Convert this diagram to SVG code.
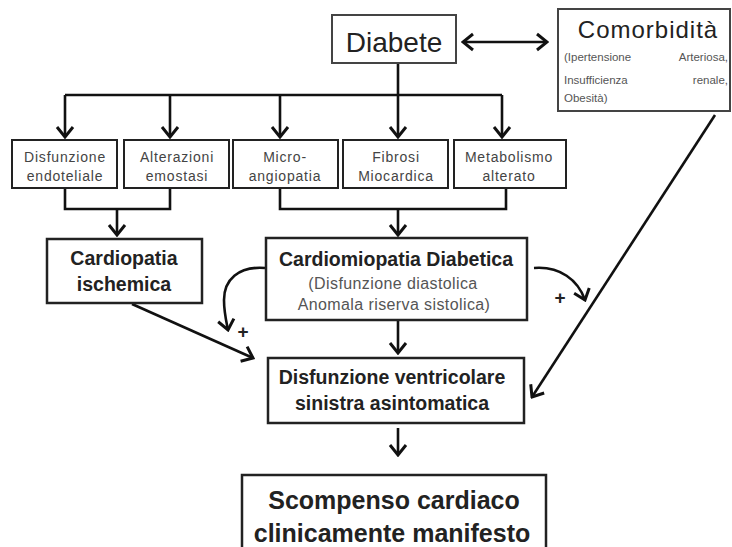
<svg xmlns="http://www.w3.org/2000/svg" width="732" height="547" viewBox="0 0 732 547">
<style>
text{font-family:"Liberation Sans",Arial,sans-serif;text-anchor:middle}
.box{fill:#fff;stroke:#222;stroke-width:2.5}
.sbox{fill:#fff;stroke:#222;stroke-width:2}
.small{font-size:14px;fill:#444;letter-spacing:0.8px}
.bold{font-size:19.5px;font-weight:bold;fill:#222}
.light{font-size:16px;fill:#555;letter-spacing:0.4px}
.com{font-size:11.5px;fill:#555}
.ln{fill:none;stroke:#111;stroke-width:2.6}
.arr{marker-end:url(#ah)}
.plus{font-size:19px;font-weight:bold;fill:#222}
</style>
<defs>
<marker id="ah" markerUnits="userSpaceOnUse" viewBox="-13 -10 15 20" markerWidth="15" markerHeight="20" refX="0" refY="0" orient="auto-start-reverse">
<path d="M-10,-8 L0,0 L-10,8" fill="none" stroke="#111" stroke-width="3"/>
</marker>
</defs>
<rect width="732" height="547" fill="#fff"/>
<g id="connectors">
<line class="ln" x1="463" y1="42" x2="547" y2="42" marker-start="url(#ah)" marker-end="url(#ah)"/>
<line class="ln" x1="65" y1="95" x2="502" y2="95"/>
<line class="ln arr" x1="398" y1="63" x2="398" y2="137"/>
<line class="ln arr" x1="65" y1="95" x2="65" y2="137"/>
<line class="ln arr" x1="170" y1="95" x2="170" y2="137"/>
<line class="ln arr" x1="280" y1="95" x2="280" y2="137"/>
<line class="ln arr" x1="502" y1="95" x2="502" y2="137"/>
<path class="ln" d="M65,189 V209 H170 V189"/>
<line class="ln arr" x1="117" y1="209" x2="117" y2="235"/>
<path class="ln" d="M280,189 V209 H506 V189"/>
<line class="ln arr" x1="398" y1="209" x2="398" y2="235"/>
<line class="ln arr" x1="398" y1="321" x2="398" y2="353"/>
<line class="ln arr" x1="398" y1="428" x2="398" y2="455"/>
<path class="ln arr" d="M265,268 C238,266 224,280 224,300 C224,312 226,320 228,330"/>
<path class="ln arr" d="M534,268 C560,266 578,280 585,300"/>
<line class="ln arr" x1="132" y1="304" x2="253" y2="358"/>
<line class="ln arr" x1="715" y1="115" x2="532" y2="397"/>
<text class="plus" x="243" y="338">+</text>
<text class="plus" x="560" y="304">+</text>
</g>
<g id="diabete">
<rect x="332" y="15" width="124" height="48" fill="#fff" stroke="#444" stroke-width="2"/>
<text x="394" y="52" style="font-size:28px;fill:#222">Diabete</text>
</g>
<g id="comorbidita">
<rect x="558" y="9" width="172" height="102" fill="#fff" stroke="#444" stroke-width="2"/>
<text x="648" y="38" style="font-size:24px;fill:#222;letter-spacing:1px">Comorbidità</text>
<text class="com" x="564" y="61" style="text-anchor:start">(Ipertensione</text>
<text class="com" x="728" y="61" style="text-anchor:end">Arteriosa,</text>
<text class="com" x="564" y="84" style="text-anchor:start">Insufficienza</text>
<text class="com" x="728" y="84" style="text-anchor:end">renale,</text>
<text class="com" x="564" y="102" style="text-anchor:start">Obesità)</text>
</g>
<g id="disfunzione-endoteliale">
<rect class="sbox" x="12" y="140" width="105" height="48"/>
<text class="small" x="65" y="162">Disfunzione</text>
<text class="small" x="65" y="181">endoteliale</text>
</g>
<g id="alterazioni-emostasi">
<rect class="sbox" x="124" y="140" width="105" height="48"/>
<text class="small" x="177" y="162">Alterazioni</text>
<text class="small" x="177" y="181">emostasi</text>
</g>
<g id="microangiopatia">
<rect class="sbox" x="233" y="140" width="105" height="48"/>
<text class="small" x="285" y="162">Micro-</text>
<text class="small" x="285" y="181">angiopatia</text>
</g>
<g id="fibrosi">
<rect class="sbox" x="343" y="140" width="105" height="48"/>
<text class="small" x="396" y="162">Fibrosi</text>
<text class="small" x="396" y="181">Miocardica</text>
</g>
<g id="metabolismo">
<rect class="sbox" x="454" y="140" width="112" height="48"/>
<text class="small" x="509" y="162">Metabolismo</text>
<text class="small" x="509" y="181">alterato</text>
</g>
<g id="cardiopatia-ischemica">
<rect class="box" x="47" y="239" width="155" height="64"/>
<text class="bold" x="124" y="265">Cardiopatia</text>
<text class="bold" x="124" y="291">ischemica</text>
</g>
<g id="cardiomiopatia-diabetica">
<rect class="box" x="266" y="238" width="261" height="82"/>
<text class="bold" x="396" y="266">Cardiomiopatia Diabetica</text>
<text class="light" x="393" y="289">(Disfunzione diastolica</text>
<text class="light" x="394" y="310">Anomala riserva sistolica)</text>
</g>
<g id="disfunzione-ventricolare">
<rect class="box" x="268" y="358" width="256" height="65"/>
<text class="bold" x="392" y="384">Disfunzione ventricolare</text>
<text class="bold" x="392" y="410">sinistra asintomatica</text>
</g>
<g id="scompenso">
<rect class="box" x="242" y="475" width="304" height="80"/>
<text x="394" y="509" style="font-size:25px;font-weight:bold;fill:#222">Scompenso cardiaco</text>
<text x="392" y="542" style="font-size:25px;font-weight:bold;fill:#222">clinicamente manifesto</text>
</g>
</svg>
